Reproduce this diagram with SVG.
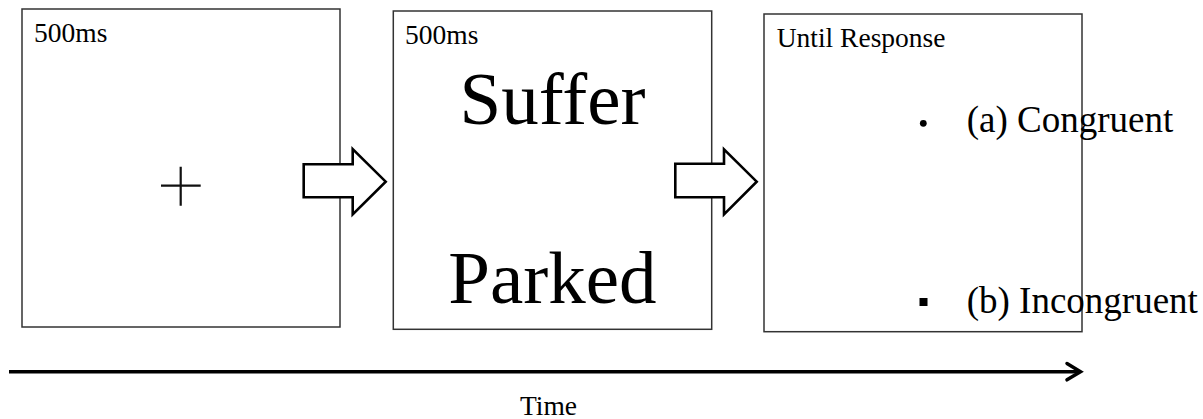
<svg xmlns="http://www.w3.org/2000/svg" width="1203" height="419" viewBox="0 0 1203 419">
<style>
.box{fill:none;stroke:#333;stroke-width:1.5}
.blk{fill:#fff;stroke:#000;stroke-width:2.6;stroke-linejoin:miter}
.t{font-family:"Liberation Serif","Times New Roman",serif;fill:#000}
.lbl{font-size:27.5px}
.word{font-size:75px;text-anchor:middle}
.opt{font-size:37px}
</style>
<g id="screen1">
<rect class="box" x="22" y="9" width="318" height="318"/>
<text class="t lbl" x="34" y="42">500ms</text>
<path d="M161 185.7H200.7M180.7 166.7V205.7" stroke="#111" stroke-width="2.2" fill="none"/>
</g>
<g id="screen2">
<rect class="box" x="393.3" y="11" width="318.4" height="318.3"/>
<text class="t lbl" x="405" y="44">500ms</text>
<text class="t word" x="552.5" y="124">Suffer</text>
<text class="t word" x="552.5" y="303">Parked</text>
</g>
<g id="screen3">
<rect class="box" x="764" y="14" width="318" height="317.7"/>
<text class="t lbl" x="776.7" y="46.5">Until Response</text>
<circle cx="923.3" cy="123.3" r="3.4" fill="#000"/>
<text class="t opt" x="966.7" y="131.5">(a) Congruent</text>
<rect x="919.5" y="298" width="8" height="8" fill="#000"/>
<text class="t opt" x="966.7" y="313.3">(b) Incongruent</text>
</g>
<g id="connectors">
<path class="blk" d="M303.7 164.3H352.7V149L385.7 181.7L352.7 214.3V197.3H303.7Z"/>
<path class="blk" d="M675.3 163.8H724V149.3L756.7 181.7L724 214.3V197.3H675.3Z"/>
<g id="timeline">
<path d="M9 371.7H1080" stroke="#000" stroke-width="3.5" fill="none"/>
<path d="M1067 363.5L1080.5 371.7L1067 379.8" stroke="#000" stroke-width="3.5" fill="none" stroke-linecap="round" stroke-linejoin="miter"/>
</g>
</g>
<text class="t lbl" x="520" y="415">Time</text>
</svg>
